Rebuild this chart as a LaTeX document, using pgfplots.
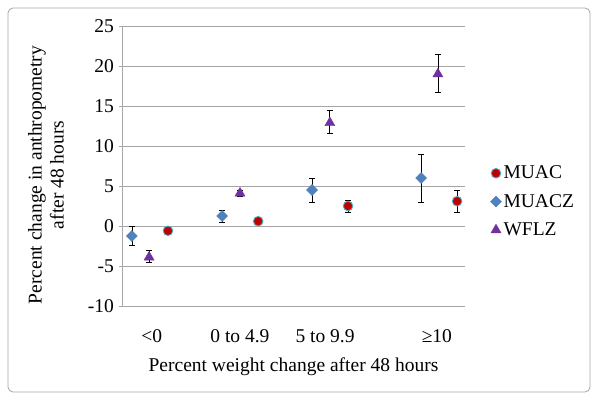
\documentclass[border=0pt]{standalone}
\usepackage{fontspec}
\setmainfont{Liberation Serif}
\usepackage{pgfplots}
\usepackage{pgfplotstable}
\pgfplotsset{compat=1.18}
\definecolor{muac}{HTML}{C00000}
\definecolor{muacring}{HTML}{4BACC6}
\definecolor{muacz}{HTML}{4F81BD}
\definecolor{wflz}{HTML}{7030A0}
\definecolor{gridg}{HTML}{A6A6A6}
\newcommand{\chf}{\fontsize{19.5}{22}\selectfont}

% x = position within category band, y = mean, ep/em = error up/down
\pgfplotstableread{
x     y     ep    em
1.34  -0.6  0.3   0.3
3.97  0.6   0.2   0.2
6.59  2.5   0.75  0.75
9.77  3.1   1.3   1.35
}\muacdata
\pgfplotstableread{
x     y     ep    em
0.29  -1.25 1.15  1.15
2.92  1.25  0.65  0.75
5.54  4.5   1.5   1.5
8.72  6.0   3.0   3.0
}\muaczdata
\pgfplotstableread{
x     y     ep    em
0.79  -3.9  0.9   0.7
3.44  4.1   0.4   0.4
6.06  12.9  1.5   1.3
9.21  19.0  2.5   2.25
}\wflzdata

\begin{document}
\begin{tikzpicture}
\useasboundingbox (-122pt,-96pt) rectangle (478pt,306pt);
\draw[gridg, line width=0.8pt, rounded corners=5pt] (-114pt,-86pt) rectangle (468pt,298pt);
\begin{axis}[
  at={(0,0)}, anchor=south west,
  scale only axis, width=343pt, height=280pt,
  xmin=0, xmax=10, ymin=-10, ymax=25,
  ytick={-10,-5,...,25},
  xtick={0.87,3.44,5.92,9.18},
  xticklabels={<0, 0 to 4.9, 5 to 9.9, ≥10},
  xtick style={draw=none},
  ytick style={draw=gridg, line width=0.8pt},
  major tick length=5pt, tick align=outside,
  axis x line=bottom, axis y line=left,
  axis line style={draw=gridg, line width=0.8pt, -},
  ymajorgrids, grid style={gridg, line width=0.8pt},
  /pgf/number format/assume math mode=true,
  tick label style={font=\chf},
  yticklabel style={xshift=-2pt},
  xticklabel style={anchor=center, yshift=-28pt},
  xlabel={Percent weight change after 48 hours},
  xlabel style={font=\chf, at={(axis description cs:0.5,-0.218)}, anchor=center},
  ylabel={Percent change in anthropometry\\after 48 hours},
  ylabel style={font=\chf, align=center, at={(axis description cs:-0.222,0.468)}, anchor=center},
  legend style={font=\chf, draw=none, fill=none, at={(axis description cs:1.065,0.373)},
    anchor=west, row sep=10pt},
  legend cell align=left,
  ebar/.style={only marks, mark=none, forget plot,
    error bars/.cd, y dir=both, y explicit,
    error bar style={black, line width=0.8pt},
    error mark options={black, line width=0.8pt, mark size=3pt, rotate=90}},
]
% error bars first, so the markers sit on top
\addplot[ebar] table[x=x, y=y, y error plus=ep, y error minus=em] {\muacdata};
\addplot[ebar] table[x=x, y=y, y error plus=ep, y error minus=em] {\muaczdata};
\addplot[ebar] table[x=x, y=y, y error plus=ep, y error minus=em] {\wflzdata};
% markers
\addplot[only marks, mark=*, mark size=4.8pt,
  mark options={fill=muac, draw=muacring, line width=0.9pt}]
  table[x=x, y=y] {\muacdata};
\addlegendentry{MUAC}
\addplot[only marks, mark=square*, mark size=3.9pt,
  mark options={fill=muacz, draw=muacz, rotate=45}]
  table[x=x, y=y] {\muaczdata};
\addlegendentry{MUACZ}
\addplot[only marks, mark=triangle*, mark size=5.8pt,
  mark options={fill=wflz, draw=wflz}]
  table[x=x, y=y] {\wflzdata};
\addlegendentry{WFLZ}
\end{axis}
\end{tikzpicture}
\end{document}
